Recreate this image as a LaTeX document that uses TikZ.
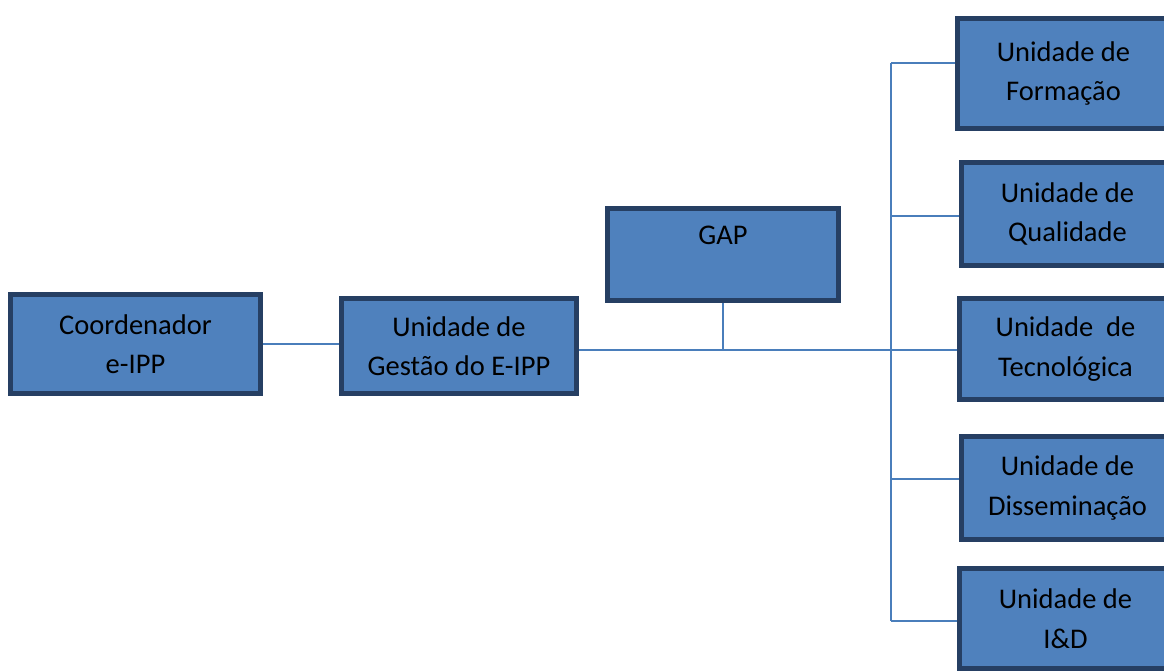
\documentclass[tikz,border=0pt]{standalone}
\usepackage{fontspec}
\setmainfont{Carlito}
\definecolor{unitfill}{HTML}{4F81BD}
\definecolor{unitedge}{HTML}{263F63}
\definecolor{linkblue}{HTML}{4A7EBB}
\tikzset{
	unit/.style={draw=unitedge,line width=5pt,fill=unitfill,rectangle,align=center,
		inner sep=0pt,font=\fontsize{28.5}{39.5}\selectfont},
	link/.style={draw=linkblue,line width=2pt}
}
\begin{document}
\begin{tikzpicture}[x=1pt,y=-1pt]
	\clip (0,0) rectangle (1164,671);
	\node (coord) at (135.5,344) [unit,minimum width=250pt,minimum height=99pt]{Coordenador\\e-IPP};
	\node (gestao) at (459,346) [unit,minimum width=235pt,minimum height=95pt]{Unidade de\\Gestão do E-IPP};
	\node (gap) at (723,254.5) [unit,minimum width=231pt,minimum height=92pt]{GAP\\[-12pt]\strut};
	\node (formacao) at (1063.5,73.5) [unit,minimum width=212pt,minimum height=110pt]{Unidade de\\Formação};
	\node (qualidade) at (1067.5,214) [unit,minimum width=212pt,minimum height=103pt]{Unidade de\\Qualidade};
	\node (tecnologica) at (1065.5,349) [unit,minimum width=212pt,minimum height=101pt]{Unidade~ de\\Tecnológica};
	\node (dissem) at (1067.5,488) [unit,minimum width=212pt,minimum height=103pt]{Unidade de\\Disseminação};
	\node (ied) at (1065.5,618.5) [unit,minimum width=212pt,minimum height=100pt]{Unidade de\\I\&D};
	% branch points on the trunk
	\coordinate (b1) at (891,63);
	\coordinate (b2) at (891,216);
	\coordinate (b3) at (891,350);
	\coordinate (b4) at (891,479);
	\coordinate (b5) at (891,621);
	\draw[link] (coord.east) -- (coord.east -| gestao.west);
	\draw[link] (gestao.east |- b3) -- (b3 -| tecnologica.west);
	\draw[link] (gap.south) -- (gap.south |- b3);
	\draw[link] (b1) -- (b5);
	\draw[link] (b1) -- (b1 -| formacao.west);
	\draw[link] (b2) -- (b2 -| qualidade.west);
	\draw[link] (b4) -- (b4 -| dissem.west);
	\draw[link] (b5) -- (b5 -| ied.west);
\end{tikzpicture}
\end{document}
